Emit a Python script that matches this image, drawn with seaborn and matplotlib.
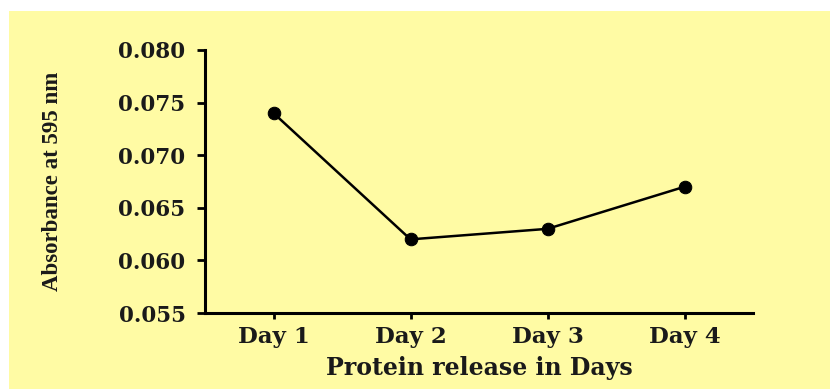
import matplotlib
matplotlib.use("Agg")
import matplotlib.pyplot as plt
import seaborn as sns
import pandas as pd
from matplotlib.patches import Rectangle

days = ["Day 1", "Day 2", "Day 3", "Day 4"]
absorbance = [0.074, 0.062, 0.063, 0.067]
yticks = [0.055, 0.060, 0.065, 0.070, 0.075, 0.080]
ytick_labels = ["0.055", "0.060", "0.065", "0.070", "0.075", "0.080"]

sns.set_theme(style="ticks")
plt.rcParams["font.family"] = ["DejaVu Serif"]

W, H = 830, 389
fig = plt.figure(figsize=(W / 100, H / 100), dpi=100, facecolor="white")
bg = fig.add_axes([0, 0, 1, 1], zorder=-10)
bg.set_axis_off()
bg.add_patch(Rectangle((9 / W, 0), 1 - 9 / W, (H - 11) / H,
                       transform=bg.transAxes, facecolor="#FFFBA4",
                       edgecolor="none"))

ax = fig.add_axes([205 / W, 1 - 313 / H, (753 - 205) / W, (313 - 50) / H])
ax.set_facecolor("none")

df = pd.DataFrame({"day": days, "abs": absorbance})
sns.lineplot(data=df, x="day", y="abs", sort=False, marker="o", color="black",
             linewidth=1.8, markersize=9, markeredgecolor="black", ax=ax)

ax.set_xlim(-0.5, 3.5)
ax.set_ylim(0.055, 0.080)
ax.set_yticks(yticks)
ax.set_yticklabels(ytick_labels)
ax.set_xticks(range(len(days)))
ax.set_xticklabels(days)

for s in ["top", "right"]:
    ax.spines[s].set_visible(False)
for s in ["left", "bottom"]:
    ax.spines[s].set_linewidth(2.2)
    ax.spines[s].set_color("black")

ax.tick_params(axis="y", length=6, width=2, color="black", pad=8)
ax.tick_params(axis="x", length=4, width=2, color="black", pad=5)
for lab in ax.get_yticklabels():
    lab.set_fontsize(15.5)
    lab.set_fontweight("bold")
    lab.set_color("#1a1a1a")
for lab in ax.get_xticklabels():
    lab.set_fontsize(16.5)
    lab.set_fontweight("bold")
    lab.set_color("#1a1a1a")

ax.set_xlabel("Protein release in Days", fontsize=17, fontweight="bold",
              color="#1a1a1a", labelpad=6)
ax.set_ylabel("Absorbance at 595 nm", fontsize=16.5, fontweight="bold",
              color="#1a1a1a", family=["Liberation Serif"])
ax.yaxis.set_label_coords((63 - 205) / (753 - 205), 0.5)

fig.savefig("out.png", dpi=100, facecolor="white")
